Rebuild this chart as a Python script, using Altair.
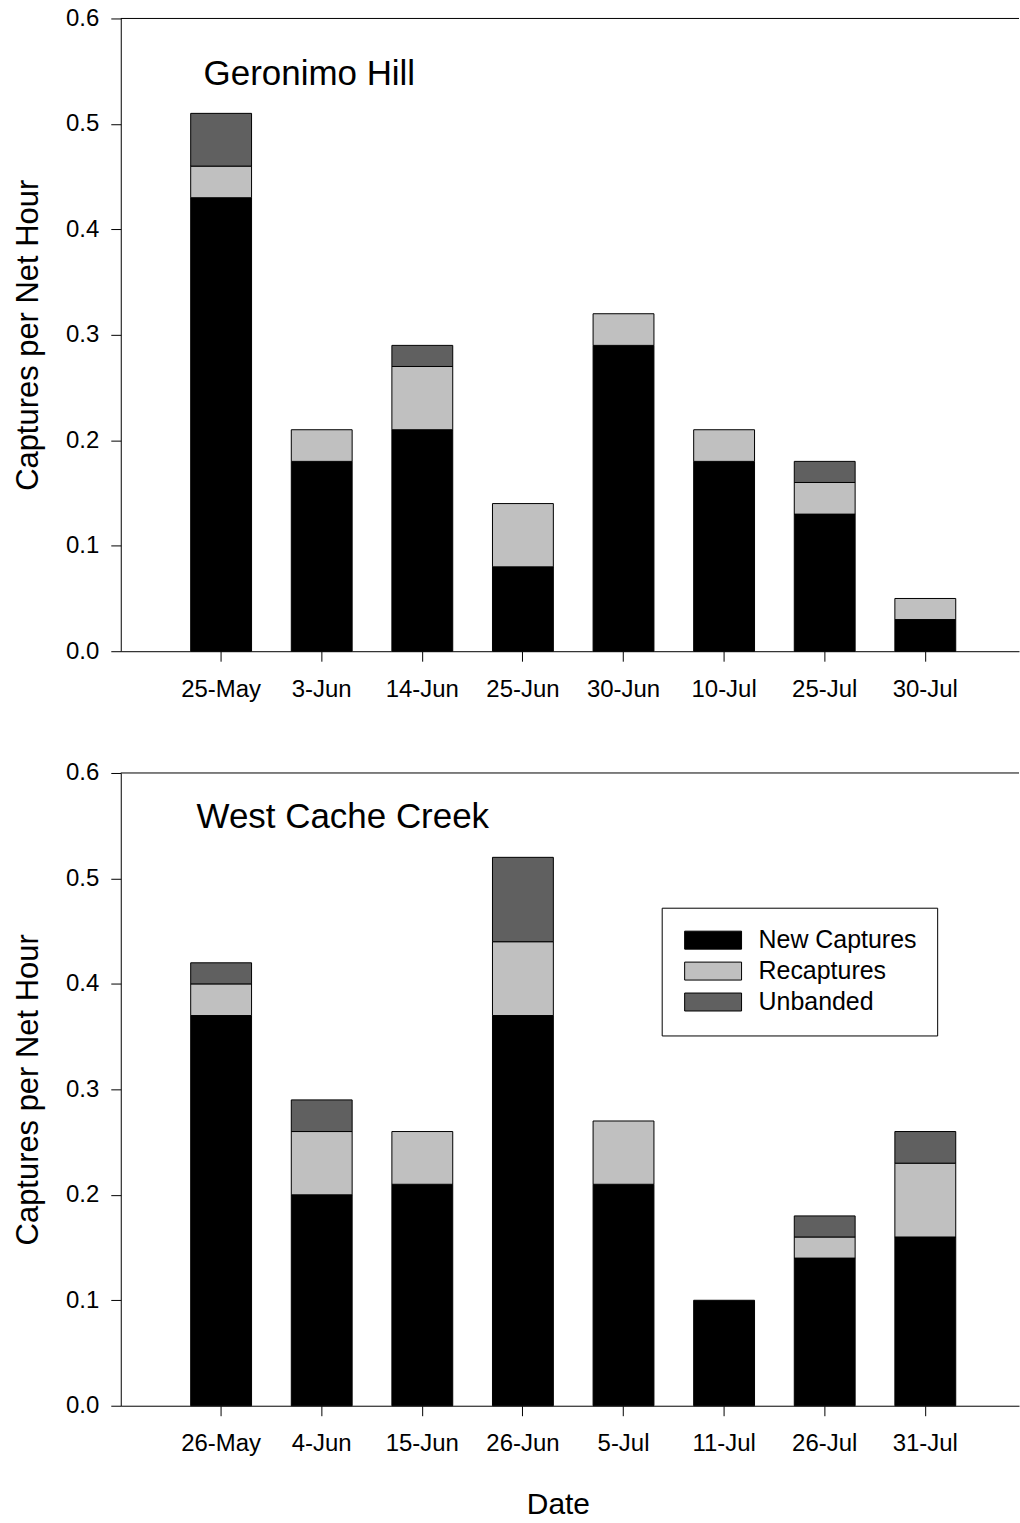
import altair as alt
import pandas as pd

series = ["New Captures", "Recaptures", "Unbanded"]
colors = ["#000000", "#c0c0c0", "#606060"]

gh_dates = ["25-May", "3-Jun", "14-Jun", "25-Jun", "30-Jun", "10-Jul", "25-Jul", "30-Jul"]
gh_new = [0.43, 0.18, 0.21, 0.08, 0.29, 0.18, 0.13, 0.03]
gh_recap = [0.03, 0.03, 0.06, 0.06, 0.03, 0.03, 0.03, 0.02]
gh_unb = [0.05, 0.00, 0.02, 0.00, 0.00, 0.00, 0.02, 0.00]

wc_dates = ["26-May", "4-Jun", "15-Jun", "26-Jun", "5-Jul", "11-Jul", "26-Jul", "31-Jul"]
wc_new = [0.37, 0.20, 0.21, 0.37, 0.21, 0.10, 0.14, 0.16]
wc_recap = [0.03, 0.06, 0.05, 0.07, 0.06, 0.00, 0.02, 0.07]
wc_unb = [0.02, 0.03, 0.00, 0.08, 0.00, 0.00, 0.02, 0.03]

y_ticks = [0.0, 0.1, 0.2, 0.3, 0.4, 0.5, 0.6]

FONT = "Liberation Sans"
W, H = 900, 634

swatch = "M-1.056,-1H5.278V1H-1.056Z"


def panel(dates, new, recap, unb, name, legend, xtitle, tx, ty):
    rows = []
    for i, d in enumerate(dates):
        for k, vals in enumerate([new, recap, unb]):
            if vals[i] > 0:
                rows.append({"date": d, "series": series[k], "order": k, "value": vals[i]})
    df = pd.DataFrame(rows)

    common_x = dict(
        labelAngle=0, labelFontSize=24, labelColor="black", labelPadding=16,
        tickSize=10, tickColor="black", domainColor="black", grid=False,
    )
    if xtitle:
        x_axis = alt.Axis(
            title=xtitle, titleFontSize=30, titleFontWeight="normal", titleColor="black",
            titleX=438, titleY=108, titleAlign="center", titleBaseline="alphabetic",
            **common_x,
        )
    else:
        x_axis = alt.Axis(title=None, **common_x)

    y_axis = alt.Axis(
        values=y_ticks, format=".1f", labelFontSize=24, labelColor="black",
        labelPadding=12, tickSize=10, tickColor="black", domainColor="black",
        grid=False, title="Captures per Net Hour", titleFontSize=31,
        titleFontWeight="normal", titleColor="black", titleX=-83, titleY=317,
        titleAngle=270, titleAlign="center", titleBaseline="alphabetic",
    )

    if legend:
        leg = alt.Legend(
            orient="none", legendX=542, legendY=135, title=None,
            symbolType=swatch, symbolSize=324, symbolStrokeColor="black",
            symbolStrokeWidth=1, symbolOpacity=1, labelFontSize=25, labelColor="black",
            labelOffset=52, padding=20, rowPadding=5, strokeColor="black",
            fillColor="white",
        )
    else:
        leg = None

    bars = alt.Chart(df).mark_bar(stroke="black", strokeWidth=1, opacity=1).encode(
        x=alt.X("date:N", sort=dates,
                scale=alt.Scale(paddingInner=0.395, paddingOuter=0.662, align=0.525),
                axis=x_axis),
        y=alt.Y("value:Q", stack="zero",
                scale=alt.Scale(domain=[0, 0.6], nice=False, zero=True),
                axis=y_axis),
        color=alt.Color("series:N",
                        scale=alt.Scale(domain=series, range=colors),
                        legend=leg),
        order=alt.Order("order:Q", sort="ascending"),
    )

    top = alt.Chart(pd.DataFrame({"v": [0.6]})).mark_rule(color="black", strokeWidth=1).encode(
        y=alt.Y("v:Q")
    )

    label = alt.Chart(pd.DataFrame({"t": [name]})).mark_text(
        align="left", baseline="alphabetic", fontSize=35, color="black"
    ).encode(x=alt.value(tx), y=alt.value(ty), text="t:N")

    return alt.layer(bars, top, label).properties(width=W, height=H)


p1 = panel(gh_dates, gh_new, gh_recap, gh_unb, "Geronimo Hill", False, None, 83, 67)
p2 = panel(wc_dates, wc_new, wc_recap, wc_unb, "West Cache Creek", True, "Date", 76, 55)

chart = alt.vconcat(p1, p2, spacing=60).resolve_scale(
    color="independent"
).resolve_legend(color="independent").properties(
    padding={"left": 13, "top": 5, "right": 0, "bottom": 0}
).configure(font=FONT).configure_view(stroke=None)

chart.save("out.html", embed_options={"renderer": "svg", "actions": False})
